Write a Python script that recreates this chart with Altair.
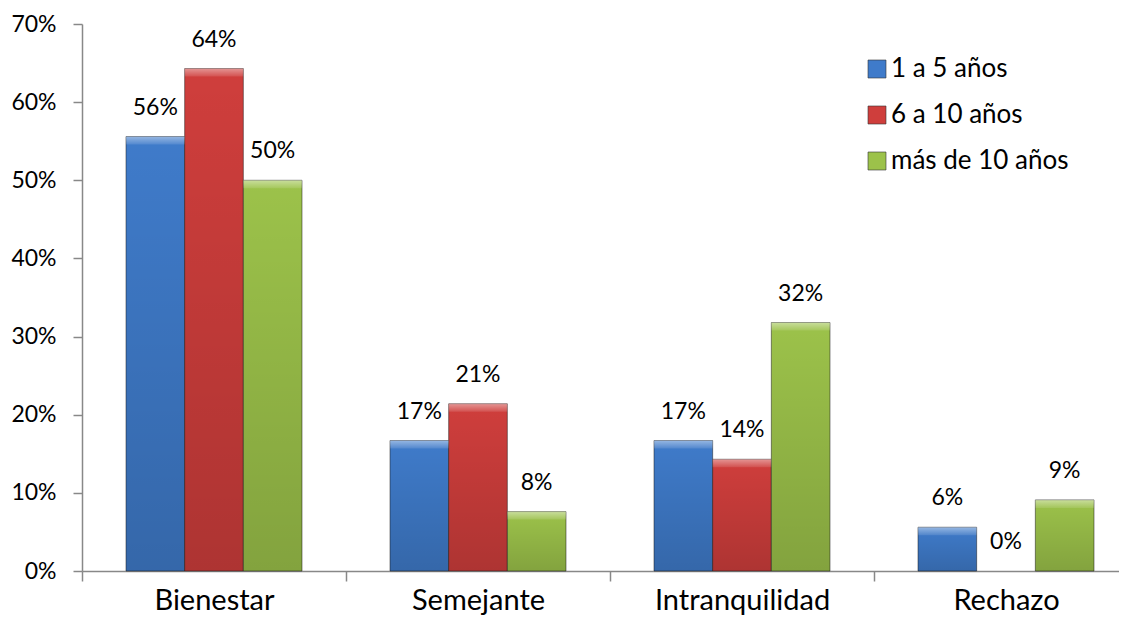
import altair as alt
import pandas as pd

categories = ["Bienestar", "Semejante", "Intranquilidad", "Rechazo"]
series = ["1 a 5 años", "6 a 10 años", "más de 10 años"]
s1 = [0.556, 0.167, 0.167, 0.056]
s2 = [0.643, 0.214, 0.143, 0.0]
s3 = [0.500, 0.076, 0.318, 0.091]
colors = ["#3F7BCA", "#CF3E3C", "#9CC24A"]

rows = []
for name, vals in zip(series, [s1, s2, s3]):
    for c, v in zip(categories, vals):
        rows.append({"cat": c, "serie": name, "val": v})
df = pd.DataFrame(rows)

FONT = "Lato"

x = alt.X("cat:N", sort=categories, title=None,
          scale=alt.Scale(paddingInner=0, paddingOuter=0, range=[0, 1056]),
          axis=alt.Axis(labelAngle=0, labelFontSize=29, labelColor="#000", labelFont=FONT,
                        tickBand="extent", tickSize=10, tickColor="#888", domainColor="#888",
                        labelPadding=5, domainWidth=1.5, tickWidth=1.5))
xo = alt.XOffset("serie:N", sort=series, scale=alt.Scale(paddingInner=0, paddingOuter=0.75))
y = alt.Y("val:Q", title=None,
          scale=alt.Scale(domain=[0, 0.7], nice=False),
          axis=alt.Axis(format=".0%", values=[0, 0.1, 0.2, 0.3, 0.4, 0.5, 0.6, 0.7],
                        grid=False, labelFontSize=23, labelColor="#000", labelFont=FONT,
                        tickSize=9, tickColor="#888", domainColor="#888", labelPadding=17,
                        domainWidth=1.5, tickWidth=1.5))

base = alt.Chart(df)
nonzero = base.transform_filter(alt.datum.val > 0)

bars = nonzero.mark_bar(stroke="#1a1a1a", strokeOpacity=0.5, strokeWidth=1).encode(
    x=x, xOffset=xo, y=y,
    fill=alt.Fill("serie:N", sort=series,
                  scale=alt.Scale(domain=series, range=colors),
                  legend=alt.Legend(title=None, orient="none", legendX=782, legendY=32,
                                    symbolType="square", symbolSize=324,
                                    symbolStrokeColor="#333", symbolStrokeWidth=0.6,
                                    labelFontSize=26, labelFont=FONT, labelColor="#000",
                                    labelLimit=400, labelOffset=1, rowPadding=20, padding=0)),
)

shade = nonzero.mark_bar(
    fill=alt.Gradient(gradient="linear", x1=0, x2=0, y1=0, y2=1,
                      stops=[alt.GradientStop(color="rgba(0,0,0,0.0)", offset=0),
                             alt.GradientStop(color="rgba(0,0,0,0.16)", offset=1)]),
).encode(x=x, xOffset=xo, y=y)

bevel = nonzero.mark_bar(
    y2Offset=8, xOffset=1, x2Offset=-1,
    fill=alt.Gradient(gradient="linear", x1=0, x2=0, y1=0, y2=1,
                      stops=[alt.GradientStop(color="rgba(255,255,255,0.45)", offset=0),
                             alt.GradientStop(color="rgba(255,255,255,0.1)", offset=1)]),
).encode(x=x, xOffset=xo, y=y, y2=alt.Y2("val:Q"))

labels = base.mark_text(baseline="bottom", dy=-17, fontSize=23, font=FONT, color="#000").encode(
    x=x, xOffset=xo, y=y, text=alt.Text("val:Q", format=".0%"))

chart = alt.layer(bars, shade, bevel, labels).properties(
    width=1037, height=547,
    autosize=alt.AutoSizeParams(type="none"),
    padding={"left": 74, "top": 16, "right": 0, "bottom": 45},
).configure_view(stroke=None)

chart.save("out.html", embed_options={"renderer": "svg", "actions": False})
